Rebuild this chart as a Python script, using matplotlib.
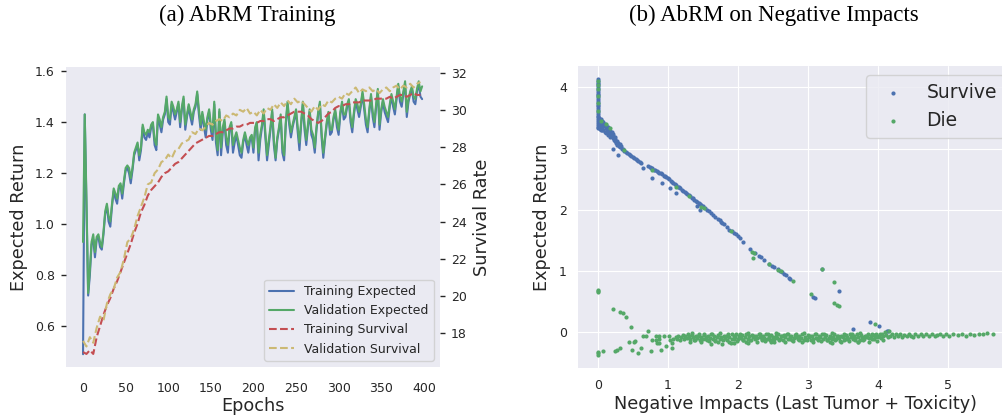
import matplotlib
matplotlib.use("Agg")
import matplotlib.pyplot as plt
import seaborn as sns

# ==========================================
# Data (a): training curves
# ==========================================
epochs_exp = list(range(0, 400, 2))
val_expected = [
    0.93, 1.43, 1.10, 0.73, 0.82, 0.93, 0.96, 0.89, 0.95, 0.96,
    0.93, 0.91, 0.97, 1.05, 1.08, 1.03, 1.01, 1.08, 1.14, 1.12,
    1.10, 1.15, 1.16, 1.12, 1.17, 1.22, 1.23, 1.22, 1.18, 1.22,
    1.28, 1.30, 1.32, 1.27, 1.30, 1.39, 1.36, 1.35, 1.37, 1.36,
    1.39, 1.40, 1.33, 1.31, 1.43, 1.41, 1.38, 1.42, 1.44, 1.50,
    1.42, 1.41, 1.48, 1.46, 1.43, 1.45, 1.48, 1.40, 1.46, 1.50,
    1.39, 1.43, 1.47, 1.44, 1.41, 1.45, 1.47, 1.52, 1.45, 1.39,
    1.44, 1.40, 1.37, 1.42, 1.45, 1.39, 1.36, 1.48, 1.35, 1.29,
    1.45, 1.30, 1.38, 1.41, 1.34, 1.31, 1.38, 1.40, 1.31, 1.34,
    1.36, 1.33, 1.30, 1.28, 1.33, 1.36, 1.33, 1.31, 1.34, 1.35,
    1.30, 1.38, 1.40, 1.28, 1.35, 1.39, 1.45, 1.36, 1.27, 1.33,
    1.38, 1.45, 1.33, 1.26, 1.34, 1.38, 1.43, 1.30, 1.27, 1.40,
    1.48, 1.41, 1.36, 1.39, 1.42, 1.45, 1.38, 1.32, 1.40, 1.48,
    1.39, 1.33, 1.39, 1.45, 1.37, 1.35, 1.30, 1.38, 1.44, 1.48,
    1.36, 1.28, 1.34, 1.40, 1.44, 1.37, 1.37, 1.42, 1.45, 1.40,
    1.37, 1.44, 1.48, 1.43, 1.43, 1.47, 1.49, 1.42, 1.38, 1.44,
    1.49, 1.47, 1.44, 1.47, 1.52, 1.47, 1.41, 1.38, 1.45, 1.51,
    1.44, 1.40, 1.47, 1.53, 1.39, 1.45, 1.49, 1.46, 1.44, 1.42,
    1.47, 1.51, 1.48, 1.45, 1.50, 1.55, 1.50, 1.48, 1.52, 1.56,
    1.44, 1.49, 1.52, 1.54, 1.50, 1.49, 1.53, 1.56, 1.52, 1.54,
]
train_expected = [
    0.49, 1.43, 1.08, 0.72, 0.80, 0.92, 0.94, 0.87, 0.94, 0.95,
    0.91, 0.90, 0.96, 1.04, 1.07, 1.01, 0.99, 1.07, 1.13, 1.10,
    1.08, 1.14, 1.15, 1.10, 1.16, 1.21, 1.22, 1.20, 1.16, 1.21,
    1.27, 1.29, 1.31, 1.25, 1.29, 1.38, 1.34, 1.33, 1.36, 1.34,
    1.38, 1.39, 1.31, 1.29, 1.42, 1.39, 1.36, 1.41, 1.43, 1.49,
    1.40, 1.39, 1.47, 1.44, 1.41, 1.44, 1.47, 1.38, 1.45, 1.49,
    1.37, 1.42, 1.46, 1.42, 1.39, 1.44, 1.46, 1.51, 1.43, 1.37,
    1.43, 1.38, 1.34, 1.41, 1.44, 1.37, 1.33, 1.47, 1.32, 1.27,
    1.44, 1.27, 1.36, 1.40, 1.31, 1.28, 1.37, 1.39, 1.28, 1.32,
    1.35, 1.31, 1.27, 1.26, 1.32, 1.35, 1.31, 1.28, 1.33, 1.34,
    1.28, 1.37, 1.39, 1.25, 1.33, 1.38, 1.44, 1.34, 1.25, 1.31,
    1.37, 1.44, 1.31, 1.25, 1.33, 1.37, 1.42, 1.28, 1.25, 1.39,
    1.47, 1.39, 1.34, 1.38, 1.41, 1.44, 1.36, 1.29, 1.39, 1.47,
    1.37, 1.31, 1.38, 1.44, 1.35, 1.33, 1.28, 1.37, 1.43, 1.47,
    1.34, 1.26, 1.33, 1.39, 1.43, 1.35, 1.36, 1.41, 1.44, 1.38,
    1.35, 1.43, 1.47, 1.41, 1.42, 1.46, 1.48, 1.40, 1.36, 1.43,
    1.48, 1.45, 1.42, 1.46, 1.51, 1.45, 1.39, 1.36, 1.44, 1.50,
    1.42, 1.38, 1.46, 1.52, 1.37, 1.44, 1.48, 1.44, 1.42, 1.40,
    1.46, 1.50, 1.46, 1.43, 1.49, 1.54, 1.48, 1.46, 1.51, 1.55,
    1.42, 1.48, 1.51, 1.53, 1.48, 1.47, 1.52, 1.55, 1.50, 1.49,
]

epochs_surv = list(range(0, 400, 4))
train_survival = [
    17.0, 16.9, 17.1, 16.9, 17.8, 18.4, 19.0, 19.5, 19.9, 20.4,
    20.8, 21.3, 21.8, 22.3, 22.8, 23.4, 23.9, 24.5, 24.9, 25.4,
    25.7, 25.9, 26.1, 26.4, 26.6, 26.7, 26.9, 27.1, 27.2, 27.4,
    27.6, 27.8, 28.0, 28.2, 28.3, 28.4, 28.5, 28.6, 28.6, 28.7,
    28.8, 28.8, 28.9, 29.0, 29.0, 29.1, 29.1, 29.2, 29.2, 29.3,
    29.3, 29.3, 29.4, 29.4, 29.5, 29.5, 29.4, 29.5, 29.6, 29.6,
    29.7, 29.8, 29.9, 29.9, 29.9, 29.8, 29.7, 29.5, 29.4, 29.3,
    29.4, 29.6, 29.8, 29.9, 30.1, 30.2, 30.2, 30.3, 30.3, 30.4,
    30.4, 30.4, 30.5, 30.5, 30.5, 30.5, 30.6, 30.6, 30.6, 30.6,
    30.7, 30.6, 30.7, 30.8, 30.8, 30.7, 30.8, 30.9, 30.8, 30.8,
]
val_survival = [
    17.6, 17.3, 17.8, 17.5, 18.3, 18.9, 18.7, 19.6, 20.1, 20.4,
    21.0, 21.3, 22.0, 22.9, 23.1, 23.6, 24.3, 24.8, 25.3, 26.0,
    26.1, 26.6, 26.8, 27.2, 27.3, 27.6, 27.4, 27.8, 27.9, 28.2,
    28.3, 28.4, 28.8, 28.7, 29.0, 28.9, 29.1, 29.3, 29.2, 29.4,
    29.5, 29.4, 29.7, 29.6, 29.8, 29.7, 30.0, 29.9, 30.1, 29.8,
    29.9, 29.7, 30.0, 29.8, 30.1, 30.0, 30.3, 30.1, 30.4, 30.2,
    30.5, 30.3, 30.6, 30.4, 30.5, 30.3, 30.1, 29.9, 30.2, 30.0,
    30.3, 30.2, 30.5, 30.4, 30.6, 30.7, 30.6, 30.9, 30.8, 31.0,
    31.2, 30.9, 31.1, 31.0, 31.2, 31.0, 31.1, 30.9, 31.1, 31.2,
    31.0, 31.2, 31.3, 31.1, 31.3, 31.2, 31.4, 31.2, 31.4, 31.5,
]

# ==========================================
# Data (b): (negative impact, expected return) points
# ==========================================
survive_pts = [
    # column at x = 0
    (0.0, 4.13), (0.0, 4.11), (0.0, 4.08), (0.0, 4.05), (0.0, 4.02), (0.0, 3.99),
    (0.0, 3.96), (0.0, 3.93), (0.0, 3.90), (0.0, 3.87), (0.0, 3.84), (0.0, 3.81),
    (0.0, 3.78), (0.0, 3.75), (0.0, 3.72), (0.0, 3.69), (0.0, 3.66), (0.0, 3.63),
    (0.0, 3.60), (0.0, 3.57), (0.0, 3.54), (0.0, 3.51), (0.0, 3.48), (0.0, 3.45),
    (0.0, 3.42), (0.0, 3.39), (0.0, 3.36), (0.0, 3.33),
    # thick blob just right of 0
    (0.01, 3.50), (0.02, 3.46), (0.02, 3.38), (0.03, 3.43), (0.03, 3.32), (0.04, 3.48),
    (0.04, 3.36), (0.05, 3.41), (0.05, 3.30), (0.06, 3.45), (0.06, 3.35), (0.07, 3.39),
    (0.08, 3.43), (0.08, 3.31), (0.09, 3.37), (0.10, 3.40), (0.10, 3.28), (0.11, 3.34),
    (0.12, 3.38), (0.12, 3.25), (0.13, 3.31), (0.14, 3.35), (0.15, 3.22), (0.15, 3.28),
    (0.16, 3.32), (0.17, 3.25), (0.18, 3.29), (0.18, 3.19), (0.19, 3.23), (0.20, 3.27),
    (0.21, 3.17), (0.21, 3.21), (0.22, 3.24), (0.23, 3.14), (0.24, 3.19), (0.25, 3.12),
    (0.25, 3.16), (0.26, 3.09), (0.27, 3.13), (0.28, 3.06), (0.29, 3.10), (0.30, 3.04),
    (0.31, 3.07), (0.32, 3.02), (0.33, 3.04), (0.34, 2.99), (0.36, 3.00), (0.38, 2.97),
    (0.21, 3.00), (0.29, 2.90), (0.06, 3.30),
    # thin curve
    (0.40, 2.95), (0.42, 2.93), (0.44, 2.91), (0.46, 2.89), (0.48, 2.88), (0.50, 2.86),
    (0.52, 2.84), (0.54, 2.83), (0.56, 2.81), (0.58, 2.80), (0.60, 2.78), (0.62, 2.77),
    (0.64, 2.68), (0.72, 2.72), (0.74, 2.70), (0.76, 2.69), (0.78, 2.68), (0.80, 2.66),
    (0.82, 2.65), (0.84, 2.64), (0.86, 2.62), (0.88, 2.61), (0.90, 2.60), (0.92, 2.58),
    (0.94, 2.56), (0.96, 2.55), (0.98, 2.53), (1.00, 2.52), (1.02, 2.50), (1.04, 2.48),
    (1.06, 2.46), (1.08, 2.44), (1.10, 2.42), (1.12, 2.40), (1.14, 2.38), (1.16, 2.37),
    (1.18, 2.35), (1.20, 2.33), (1.22, 2.31), (1.24, 2.29), (1.26, 2.27), (1.28, 2.26),
    (1.30, 2.24), (1.32, 2.22), (1.34, 2.20), (1.36, 2.19), (1.38, 2.17), (1.40, 2.15),
    (1.42, 2.13), (1.44, 2.12), (1.46, 2.10), (1.48, 2.08), (1.50, 2.06), (1.53, 2.03),
    (1.56, 2.00), (1.59, 1.98), (1.62, 1.95), (1.65, 1.92), (1.68, 1.89), (1.71, 1.86),
    (1.74, 1.83), (1.76, 1.80), (1.78, 1.78), (1.80, 1.77), (1.84, 1.72), (1.88, 1.68),
    (1.91, 1.66), (1.94, 1.63), (1.97, 1.60), (2.00, 1.57), (2.03, 1.54), (2.07, 1.48),
    (2.17, 1.37), (2.24, 1.30), (2.30, 1.25), (2.33, 1.23), (2.37, 1.18), (2.45, 1.12),
    (2.49, 1.09), (2.52, 1.07), (2.57, 1.03), (2.60, 1.01), (2.63, 0.99), (2.66, 0.96),
    (2.69, 0.93), (2.73, 0.89), (2.75, 0.87),
    # below the curve
    (0.78, 2.52), (0.91, 2.44), (1.03, 2.36), (1.11, 2.28), (1.41, 2.06), (1.46, 2.00),
    # far out
    (3.08, 0.58), (3.10, 0.57), (3.20, 1.04), (3.45, 0.68), (3.65, 0.06), (3.89, 0.17),
    (4.02, 0.11), (4.13, 0.03), (4.15, 0.02),
]

die_pts = [
    # on the survive curve
    (0.0, 4.10), (0.0, 4.04), (0.0, 3.97), (0.0, 3.86), (0.0, 3.74), (0.0, 3.62),
    (0.04, 3.46), (0.12, 3.40), (0.17, 3.33), (0.38, 2.98), (0.78, 2.65), (1.12, 2.37),
    (1.30, 2.22), (1.48, 2.05), (1.52, 2.03), (1.90, 1.65), (2.20, 1.31), (2.23, 1.30),
    (2.22, 1.22), (2.44, 1.12), (2.58, 1.02), (2.62, 1.00), (2.79, 0.84), (3.20, 1.04),
    (3.38, 0.82), (3.04, 0.63), (3.37, 0.48), (3.42, 0.45), (3.45, 0.43), (3.96, 0.14),
    # strays
    (0.0, 0.70), (0.0, 0.68), (0.0, 0.66), (0.0, -0.32), (0.0, -0.34), (0.0, -0.36),
    (0.07, -0.30), (0.22, 0.38), (0.32, 0.34), (0.36, 0.32), (0.40, 0.26), (0.48, 0.09),
    (0.71, 0.03), (0.25, -0.30), (0.28, -0.29), (0.31, -0.25), (0.44, -0.16), (0.49, -0.29),
    (0.51, -0.15), (0.53, -0.14), (0.58, -0.33), (0.62, -0.26), (0.76, -0.30), (0.90, -0.28),
    (0.98, -0.22), (1.06, -0.25), (1.06, -0.17), (0.65, -0.06), (0.69, -0.05), (0.77, -0.12),
    (0.83, -0.05), (0.87, -0.05), (0.83, -0.12), (0.88, -0.11), (0.85, -0.18), (0.88, -0.18),
    (0.95, -0.05), (1.02, -0.05), (1.03, -0.12), (1.08, -0.11), (1.11, -0.08),
    # band just below zero
    (1.13, -0.10), (1.15, -0.05), (1.17, -0.13), (1.19, -0.07), (1.21, -0.04), (1.23, -0.11),
    (1.25, -0.06), (1.27, -0.09), (1.29, -0.03),
    (1.30, -0.06), (1.32, -0.11), (1.34, -0.04), (1.36, -0.08), (1.38, -0.13), (1.40, -0.05),
    (1.42, -0.09), (1.44, -0.03), (1.46, -0.12), (1.48, -0.07), (1.50, -0.10), (1.52, -0.04),
    (1.54, -0.08), (1.56, -0.12), (1.58, -0.05), (1.60, -0.09), (1.62, -0.03), (1.64, -0.11),
    (1.66, -0.06), (1.68, -0.14), (1.70, -0.08), (1.72, -0.04), (1.74, -0.10), (1.76, -0.07),
    (1.78, -0.19), (1.80, -0.05), (1.82, -0.09), (1.84, -0.12), (1.86, -0.03), (1.88, -0.07),
    (1.90, -0.18), (1.92, -0.10), (1.94, -0.05), (1.96, -0.08), (1.98, -0.02), (2.00, -0.11),
    (2.02, -0.06), (2.04, -0.09), (2.06, -0.04), (2.08, -0.13), (2.10, -0.07), (2.12, -0.03),
    (2.14, -0.10), (2.16, -0.06), (2.18, -0.12), (2.20, -0.04), (2.22, -0.08), (2.24, -0.11),
    (2.26, -0.05), (2.28, -0.09), (2.30, -0.02), (2.32, -0.07), (2.34, -0.12), (2.36, -0.05),
    (2.38, -0.09), (2.40, -0.03), (2.42, -0.10), (2.44, -0.07), (2.46, -0.13), (2.48, -0.04),
    (2.50, -0.08), (2.52, -0.11), (2.54, -0.06), (2.56, -0.09), (2.58, -0.03), (2.60, -0.10),
    (2.62, -0.06), (2.64, -0.12), (2.66, -0.04), (2.68, -0.08), (2.70, -0.02), (2.72, -0.11),
    (2.74, -0.07), (2.76, -0.05), (2.78, -0.13), (2.80, -0.09), (2.82, -0.04), (2.84, -0.08),
    (2.86, -0.11), (2.88, -0.05), (2.90, -0.09), (2.92, -0.03), (2.94, -0.12), (2.96, -0.07),
    (2.98, -0.10), (3.00, -0.04), (3.02, -0.08), (3.04, -0.13), (3.06, -0.06), (3.08, -0.10),
    (3.10, -0.03), (3.12, -0.09), (3.14, -0.12), (3.16, -0.05), (3.18, -0.08), (3.20, -0.02),
    (3.22, -0.11), (3.24, -0.07), (3.26, -0.04), (3.28, -0.13), (3.30, -0.09), (3.32, -0.05),
    (3.34, -0.10), (3.36, -0.07), (3.38, -0.03), (3.40, -0.11), (3.42, -0.06), (3.44, -0.09),
    (3.46, -0.14), (3.48, -0.05), (3.50, -0.08), (3.52, -0.12), (3.54, -0.04), (3.56, -0.07),
    (3.58, -0.10), (3.60, -0.03), (3.62, -0.08), (3.64, -0.11), (3.66, -0.05), (3.68, -0.09),
    (3.70, -0.02), (3.72, -0.07), (3.74, -0.12), (3.76, -0.04), (3.78, -0.08), (3.80, -0.10),
    (3.82, -0.05), (3.84, -0.07), (3.86, -0.03), (3.88, -0.09), (3.90, -0.06), (3.92, -0.10),
    (3.94, -0.04), (3.96, -0.07), (3.98, -0.02), (4.00, -0.08), (4.02, -0.05), (4.04, -0.09),
    (4.06, -0.03), (4.08, -0.06), (4.10, 0.01), (4.12, -0.04), (4.14, -0.07), (4.16, 0.02),
    (4.18, -0.05), (4.20, -0.02), (4.23, -0.07), (4.26, -0.03), (4.29, -0.06), (4.32, -0.02),
    (4.35, -0.08), (4.38, -0.04), (4.41, -0.06), (4.44, -0.02), (4.47, -0.05), (4.50, -0.07),
    (4.53, -0.03), (4.57, -0.05), (4.61, -0.02), (4.65, -0.06), (4.69, -0.03), (4.73, -0.05),
    (4.77, -0.02), (4.81, -0.06), (4.85, -0.04), (4.89, -0.02), (4.93, -0.05), (4.97, -0.03),
    (5.02, -0.05), (5.08, -0.03), (5.14, -0.04), (5.20, -0.02), (5.26, -0.05), (5.32, -0.03),
    (5.38, -0.04), (5.44, -0.02), (5.50, -0.03), (5.56, -0.01), (5.65, -0.02),
    (1.62, -0.19), (2.15, -0.17), (2.48, -0.16), (3.35, -0.17), (3.72, -0.16), (1.95, -0.18),
    # second layer of the band (edges)
    (1.31, -0.15), (1.35, -0.01), (1.39, -0.13), (1.43, -0.06), (1.47, -0.16), (1.51, -0.02),
    (1.55, -0.10), (1.59, -0.14), (1.63, -0.03), (1.67, -0.12), (1.71, -0.15), (1.75, -0.01),
    (1.79, -0.13), (1.83, -0.06), (1.87, -0.16), (1.91, -0.02), (1.95, -0.10), (1.99, -0.14),
    (2.03, -0.03), (2.07, -0.12), (2.11, -0.15), (2.15, -0.01), (2.19, -0.13), (2.23, -0.06),
    (2.27, -0.16), (2.31, -0.02), (2.35, -0.10), (2.39, -0.14), (2.43, -0.03), (2.47, -0.12),
    (2.51, -0.15), (2.55, -0.01), (2.59, -0.13), (2.63, -0.06), (2.67, -0.16), (2.71, -0.02),
    (2.75, -0.10), (2.79, -0.14), (2.83, -0.03), (2.87, -0.12), (2.91, -0.15), (2.95, -0.01),
    (2.99, -0.13), (3.03, -0.06), (3.07, -0.16), (3.11, -0.02), (3.15, -0.10), (3.19, -0.14),
    (3.23, -0.03), (3.27, -0.12), (3.31, -0.15), (3.35, -0.01), (3.39, -0.13), (3.43, -0.06),
    (3.47, -0.16), (3.51, -0.02), (3.55, -0.10), (3.59, -0.14), (3.63, -0.03), (3.67, -0.12),
    (3.71, -0.15), (3.75, -0.01), (3.79, -0.13), (3.83, -0.06), (3.87, -0.16), (3.91, -0.02),
    (3.95, -0.10), (3.99, -0.14), (4.03, -0.03), (4.07, -0.12),
]

# ==========================================
# Style
# ==========================================
sns.set_style("darkgrid")
plt.rcParams['font.family'] = ['DejaVu Sans']

BLUE, GREEN, RED, GOLD = "#4C72B0", "#55A868", "#C44E52", "#CCB974"
DARK = "#262626"

fig = plt.figure(figsize=(10.03, 4.15), dpi=100)

# ---------- (a) ----------
ax1 = fig.add_axes([0.0658, 0.1157, 0.3729, 0.7229])
ax1.grid(False)
l1, = ax1.plot(epochs_exp, train_expected, color=BLUE, lw=1.5, label='Training Expected')
l2, = ax1.plot(epochs_exp, val_expected, color=GREEN, lw=1.5, label='Validation Expected')
ax1.set_xlim(-20, 419)
ax1.set_ylim(0.44, 1.616)
ax1.set_xticks(range(0, 401, 50))
ax1.set_yticks([0.6, 0.8, 1.0, 1.2, 1.4, 1.6])
ax1.tick_params(axis='x', bottom=False, pad=7, labelsize=9, labelcolor=DARK)
ax1.tick_params(axis='y', left=True, length=3.5, width=1, color=DARK, pad=4.5,
                labelsize=9, labelcolor=DARK)
ax1.set_xlabel('Epochs', fontsize=12.7, labelpad=1.5, color=DARK)
ax1.set_ylabel('Expected Return', fontsize=12.7, labelpad=5, color=DARK)

ax2 = ax1.twinx()
ax2.grid(False)
l3, = ax2.plot(epochs_surv, train_survival, color=RED, lw=1.5, ls='--', label='Training Survival')
l4, = ax2.plot(epochs_surv, val_survival, color=GOLD, lw=1.5, ls='--', label='Validation Survival')
ax2.set_ylim(16.2, 32.3)
ax2.set_yticks(range(18, 33, 2))
ax2.tick_params(axis='y', right=True, length=3.5, width=1, color=DARK, pad=4.5,
                labelsize=9, labelcolor=DARK)
ax2.set_ylabel('Survival Rate', fontsize=12.7, labelpad=4, color=DARK)
for a in (ax1, ax2):
    for s in a.spines.values():
        s.set_visible(False)
ax2.legend(handles=[l1, l2, l3, l4], loc='lower right', fontsize=9, frameon=True)

# ---------- (b) ----------
ax3 = fig.add_axes([0.5763, 0.1133, 0.4343, 0.7277])
ax3.scatter([p[0] for p in survive_pts], [p[1] for p in survive_pts],
            s=9, color=BLUE, linewidths=0, label='Survive')
ax3.scatter([p[0] for p in die_pts], [p[1] for p in die_pts],
            s=9, color=GREEN, linewidths=0, label='Die')
ax3.set_xlim(-0.283, 5.94)
ax3.set_ylim(-0.58, 4.35)
ax3.set_xticks(range(0, 6))
ax3.set_yticks(range(0, 5))
ax3.tick_params(axis='both', length=0, pad=8, labelsize=9, labelcolor=DARK)
ax3.set_xlabel('Negative Impacts (Last Tumor + Toxicity)', fontsize=12.7, labelpad=2, color=DARK)
ax3.set_ylabel('Expected Return', fontsize=12.7, labelpad=5.5, color=DARK)
for s in ax3.spines.values():
    s.set_visible(False)
ax3.legend(loc='upper right', fontsize=13.5, frameon=True)

# ---------- titles ----------
fig.text(0.246, 0.962, '(a) AbRM Training', ha='center', va='center',
         family='Liberation Serif', fontsize=16.5, color='black')
fig.text(0.772, 0.962, '(b) AbRM on Negative Impacts', ha='center', va='center',
         family='Liberation Serif', fontsize=16.5, color='black')

fig.savefig('out.png', dpi=100)
